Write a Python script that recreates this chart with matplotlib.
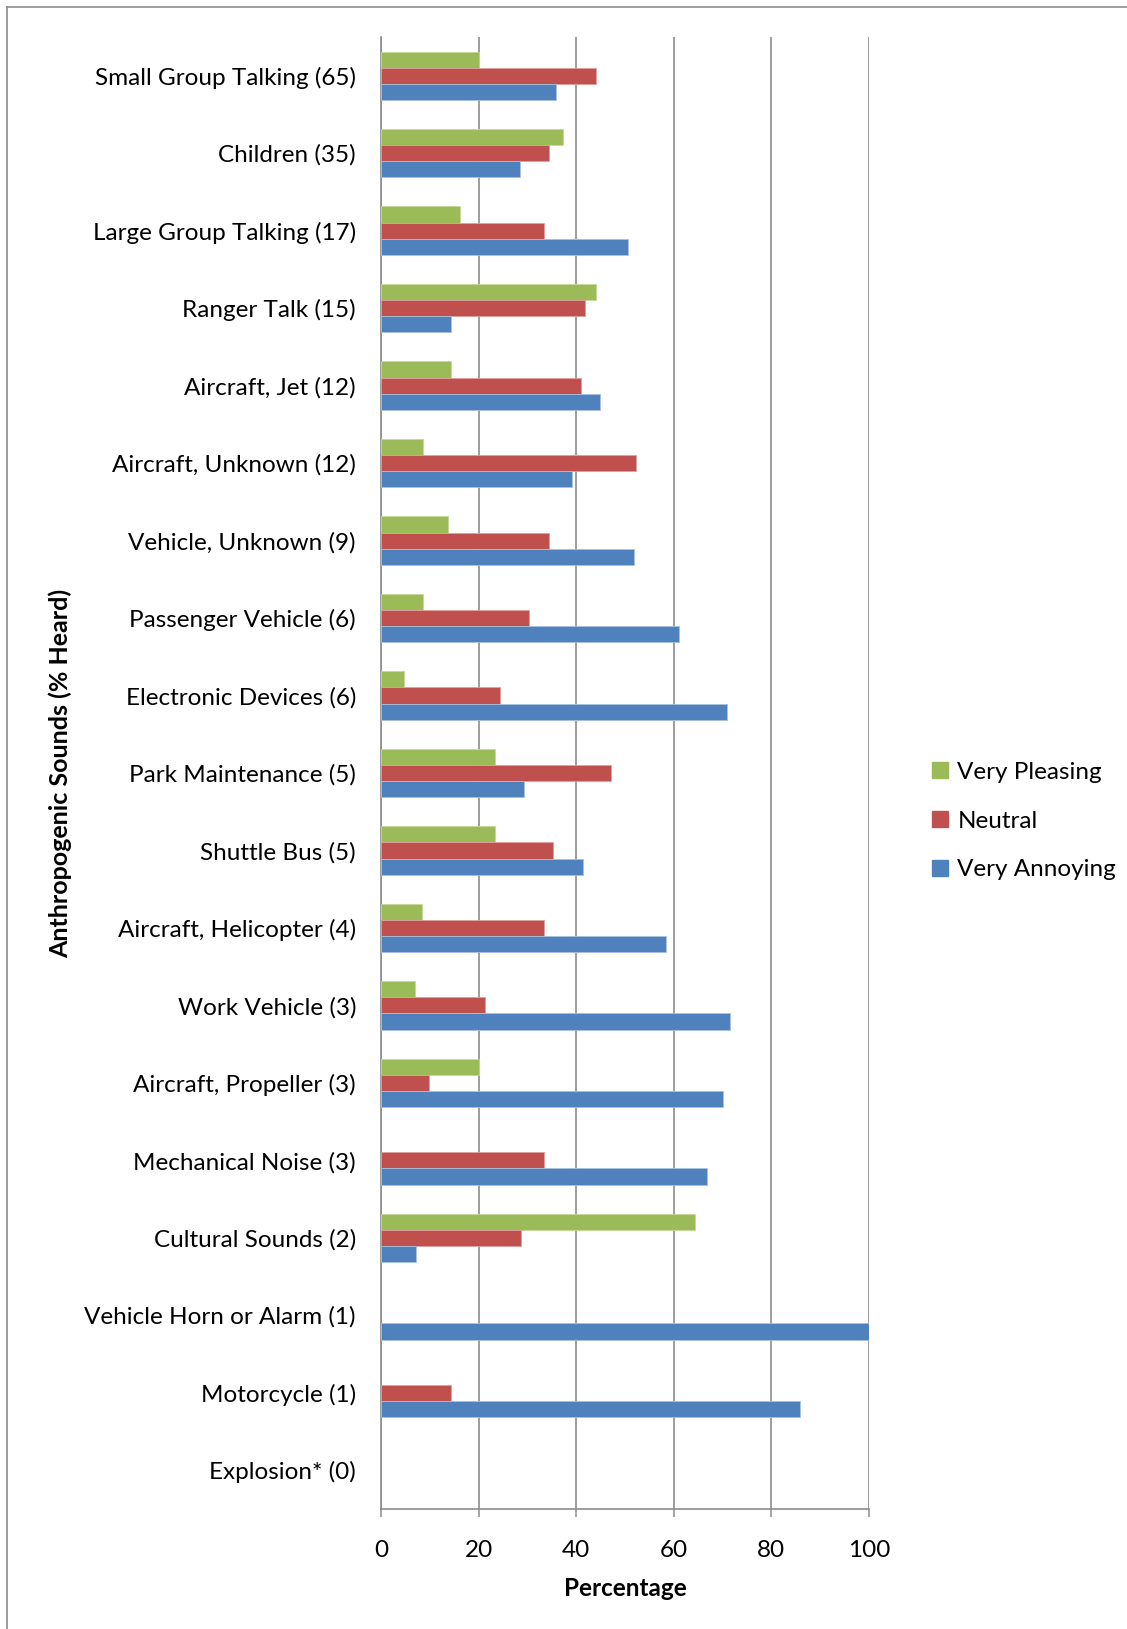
import matplotlib
matplotlib.use("Agg")
import matplotlib.pyplot as plt
from matplotlib.lines import Line2D
import numpy as np

plt.rcParams['font.family'] = ['Lato', 'DejaVu Sans']

categories = [
    "Small Group Talking (65)", "Children (35)", "Large Group Talking (17)",
    "Ranger Talk (15)", "Aircraft, Jet (12)", "Aircraft, Unknown (12)",
    "Vehicle, Unknown (9)", "Passenger Vehicle (6)", "Electronic Devices (6)",
    "Park Maintenance (5)", "Shuttle Bus (5)", "Aircraft, Helicopter (4)",
    "Work Vehicle (3)", "Aircraft, Propeller (3)", "Mechanical Noise (3)",
    "Cultural Sounds (2)", "Vehicle Horn or Alarm (1)", "Motorcycle (1)",
    "Explosion* (0)",
]

very_pleasing = [20.0, 37.3, 16.2, 44.0, 14.3, 8.6, 13.7, 8.6, 4.8, 23.4,
                 23.4, 8.3, 7.0, 20.0, 0.0, 64.3, 0.0, 0.0, 0.0]
neutral = [44.0, 34.5, 33.3, 41.8, 40.9, 52.3, 34.5, 30.4, 24.3, 47.1,
           35.3, 33.3, 21.4, 9.9, 33.3, 28.6, 0.0, 14.3, 0.0]
very_annoying = [35.8, 28.4, 50.6, 14.3, 44.9, 39.2, 51.8, 61.0, 70.8, 29.4,
                 41.3, 58.4, 71.5, 70.1, 66.8, 7.1, 100.0, 85.8, 0.0]

series = [("Very Pleasing", very_pleasing, "#9BBB59", "#c5d89a"),
          ("Neutral", neutral, "#C0504D", "#e0a09e"),
          ("Very Annoying", very_annoying, "#4F81BD", "#a9c0de")]

FS = 17.5
W, H = 1127, 1629
fig = plt.figure(figsize=(W / 100, H / 100), dpi=100)
ax = fig.add_axes([381 / W, 1 - 1509 / H, 488 / W, (1509 - 37) / H])

y = np.arange(len(categories))
bw = 0.625 / 3
for i, (name, vals, col, edge) in enumerate(series):
    lw = [0.6 if v > 0 else 0 for v in vals]
    ax.barh(y + (i - 1) * bw, vals, height=bw, color=col, edgecolor=edge,
            linewidth=lw, label=name, zorder=3)

ax.set_xlim(0, 100)
ax.set_ylim(len(categories) - 0.5, -0.5)
ax.set_xticks(range(0, 101, 20))
ax.set_yticks(y)
ax.set_yticklabels(categories, fontsize=FS)
ax.tick_params(axis='y', length=0, pad=18)
ax.tick_params(axis='x', length=6, width=1.1, color="#8c8c8c",
               labelsize=FS, pad=16)
ax.grid(axis='x', color="#8c8c8c", linewidth=1.2, zorder=0)
for s in ("top", "right"):
    ax.spines[s].set_visible(False)
for s in ("left", "bottom"):
    ax.spines[s].set_color("#8c8c8c")
    ax.spines[s].set_linewidth(1.2)

ax.set_xlabel("Percentage", fontsize=FS, fontweight="bold", labelpad=12)
ax.set_ylabel("Anthropogenic Sounds (% Heard)", fontsize=18,
              fontweight="bold", labelpad=9)

# legend to the right of the plot
handles = [plt.Rectangle((0, 0), 1, 1, color=c) for _, _, c, _ in series]
fig.legend(handles, [s[0] for s in series], loc="center left",
           bbox_to_anchor=(910 / W, 1 - 821 / H), frameon=False,
           fontsize=FS, handlelength=0.65, handleheight=0.65,
           handletextpad=0.4, labelspacing=1.15)

# outer frame, left and top edges only
fig.add_artist(Line2D([7 / W, 7 / W], [0, 1 - 7 / H], transform=fig.transFigure,
                      color="#8c8c8c", linewidth=1.2))
fig.add_artist(Line2D([7 / W, 1], [1 - 7 / H, 1 - 7 / H], transform=fig.transFigure,
                      color="#8c8c8c", linewidth=1.2))

fig.savefig("out.png", dpi=100)
